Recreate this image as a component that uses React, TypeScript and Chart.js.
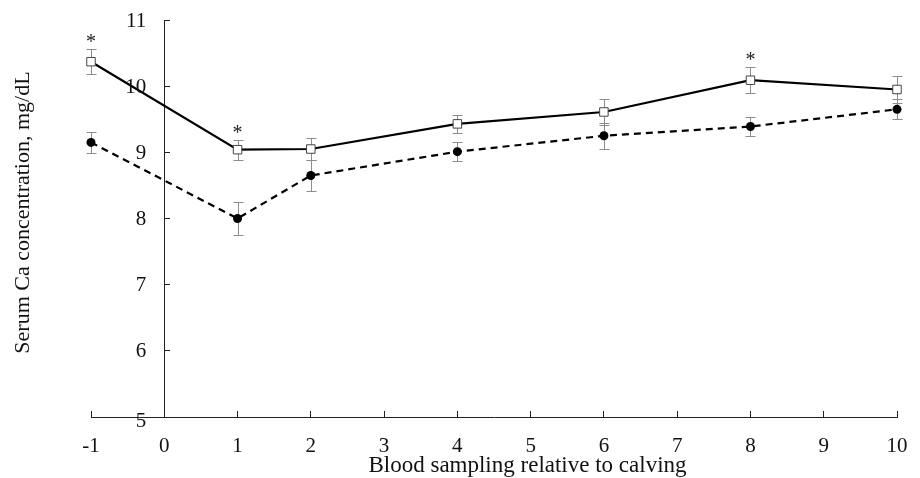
import React, { useEffect, useRef } from "react";
import { Chart, registerables } from "chart.js";

Chart.register(...registerables);

// ---- data ----
const days = [-1, 1, 2, 4, 6, 8, 10];
const squareMeans = [10.37, 9.04, 9.05, 9.43, 9.61, 10.09, 9.95];
const squareSE = [0.19, 0.15, 0.17, 0.14, 0.19, 0.2, 0.2];
const circleMeans = [9.15, 8.0, 8.65, 9.01, 9.25, 9.39, 9.65];
const circleSE = [0.16, 0.245, 0.23, 0.14, 0.2, 0.14, 0.15];
const significantDays = [-1, 1, 8];
const xMin = -1;
const xMax = 10;
const yMin = 5;
const yMax = 11;
const xTitle = "Blood sampling relative to calving";
const yTitle = "Serum Ca concentration, mg/dL";

const FONT = "'Liberation Serif', 'Times New Roman', serif";

const errorsByDataset = [squareSE, circleSE];

const overlayPlugin = {
  id: "overlay",
  beforeDatasetsDraw(chart: any) {
    const { ctx, scales } = chart;
    const x = scales.x;
    const y = scales.y;
    ctx.save();
    ctx.strokeStyle = "#8c8c8c";
    ctx.lineWidth = 1;
    chart.data.datasets.forEach((ds: any, di: number) => {
      const errs = errorsByDataset[di];
      ds.data.forEach((p: any, i: number) => {
        const px = Math.round(x.getPixelForValue(p.x)) + 0.5;
        const top = Math.round(y.getPixelForValue(p.y + errs[i])) + 0.5;
        const bot = Math.round(y.getPixelForValue(p.y - errs[i])) + 0.5;
        ctx.beginPath();
        ctx.moveTo(px, top);
        ctx.lineTo(px, bot);
        ctx.moveTo(px - 5, top);
        ctx.lineTo(px + 5, top);
        ctx.moveTo(px - 5, bot);
        ctx.lineTo(px + 5, bot);
        ctx.stroke();
      });
    });
    ctx.restore();
  },
  afterDatasetsDraw(chart: any) {
    const { ctx, scales, chartArea } = chart;
    const x = scales.x;
    const y = scales.y;
    ctx.save();
    // y tick labels, placed left of the y axis (which crosses at x = 0)
    const axisX = x.getPixelForValue(0);
    ctx.fillStyle = "#111";
    ctx.font = `21px ${FONT}`;
    ctx.textAlign = "right";
    ctx.textBaseline = "middle";
    y.ticks.forEach((t: any) => {
      const py = y.getPixelForValue(t.value);
      const dy = t.value === yMin ? 4 : 1;
      ctx.fillText(String(t.label ?? t.value), axisX - 18, py + dy);
    });
    // significance asterisks
    ctx.fillStyle = "#222";
    ctx.font = `20px ${FONT}`;
    ctx.textAlign = "center";
    ctx.textBaseline = "middle";
    significantDays.forEach((d) => {
      const i = days.indexOf(d);
      const px = x.getPixelForValue(d);
      const top = y.getPixelForValue(squareMeans[i] + squareSE[i]);
      ctx.fillText("*", px, top - 6);
    });
    // axis titles
    ctx.fillStyle = "#111";
    ctx.font = `23px ${FONT}`;
    ctx.textAlign = "center";
    ctx.textBaseline = "alphabetic";
    const cx = (chartArea.left + chartArea.right) / 2 + 33.5;
    ctx.fillText(xTitle, cx, chartArea.bottom + 55);
    ctx.font = `22px ${FONT}`;
    ctx.translate(29, (chartArea.top + chartArea.bottom) / 2 - 6);
    ctx.rotate(-Math.PI / 2);
    ctx.fillText(yTitle, 0, 0);
    ctx.restore();
  },
};

export default function App() {
  const ref = useRef<HTMLCanvasElement>(null);

  useEffect(() => {
    const canvas = ref.current;
    if (!canvas) return;
    const chart = new Chart(canvas, {
      type: "line",
      data: {
        datasets: [
          {
            label: "Treatment A",
            data: days.map((d, i) => ({ x: d, y: squareMeans[i] })),
            borderColor: "#000",
            borderWidth: 2.2,
            pointStyle: "rect",
            pointRadius: 6,
            pointBackgroundColor: "#fff",
            pointBorderColor: "#444",
            pointBorderWidth: 1,
            tension: 0,
            fill: false,
            clip: false,
          },
          {
            label: "Treatment B",
            data: days.map((d, i) => ({ x: d, y: circleMeans[i] })),
            borderColor: "#000",
            borderWidth: 2.2,
            borderDash: [7, 5],
            pointStyle: "circle",
            pointRadius: 4.5,
            pointBackgroundColor: "#000",
            pointBorderColor: "#000",
            pointBorderWidth: 0,
            tension: 0,
            fill: false,
            clip: false,
          },
        ],
      },
      options: {
        responsive: false,
        animation: false,
        devicePixelRatio: 1,
        layout: { padding: { left: 91, right: 23, top: 20, bottom: 0 } },
        plugins: {
          legend: { display: false },
          tooltip: { enabled: false },
        },
        scales: {
          x: {
            type: "linear",
            position: "bottom",
            min: xMin,
            max: xMax,
            afterFit: (scale: any) => {
              scale.height = 61;
              scale.paddingLeft = 10;
              scale.paddingRight = 11;
            },
            ticks: {
              stepSize: 1,
              color: "#111",
              font: { family: FONT, size: 21 },
              padding: 23,
              maxRotation: 0,
            },
            grid: {
              drawOnChartArea: false,
              drawTicks: true,
              tickLength: -6,
              tickColor: "#222",
            },
            border: { color: "#222", width: 1 },
            title: { display: false },
          },
          y: {
            type: "linear",
            position: { x: 0 } as any,
            min: yMin,
            max: yMax,
            ticks: {
              stepSize: 1,
              display: false,
            },
            grid: {
              drawOnChartArea: false,
              drawTicks: true,
              tickLength: -6,
              tickColor: "#222",
            },
            border: { color: "#222", width: 1 },
            title: { display: false },
          },
        },
      },
      plugins: [overlayPlugin],
    } as any);
    return () => chart.destroy();
  }, []);

  return (
    <div
      style={{
        position: "absolute",
        left: 0,
        top: 0,
        width: 920,
        height: 478,
        background: "#fff",
      }}
    >
      <canvas ref={ref} width={920} height={478} style={{ display: "block" }} />
    </div>
  );
}
